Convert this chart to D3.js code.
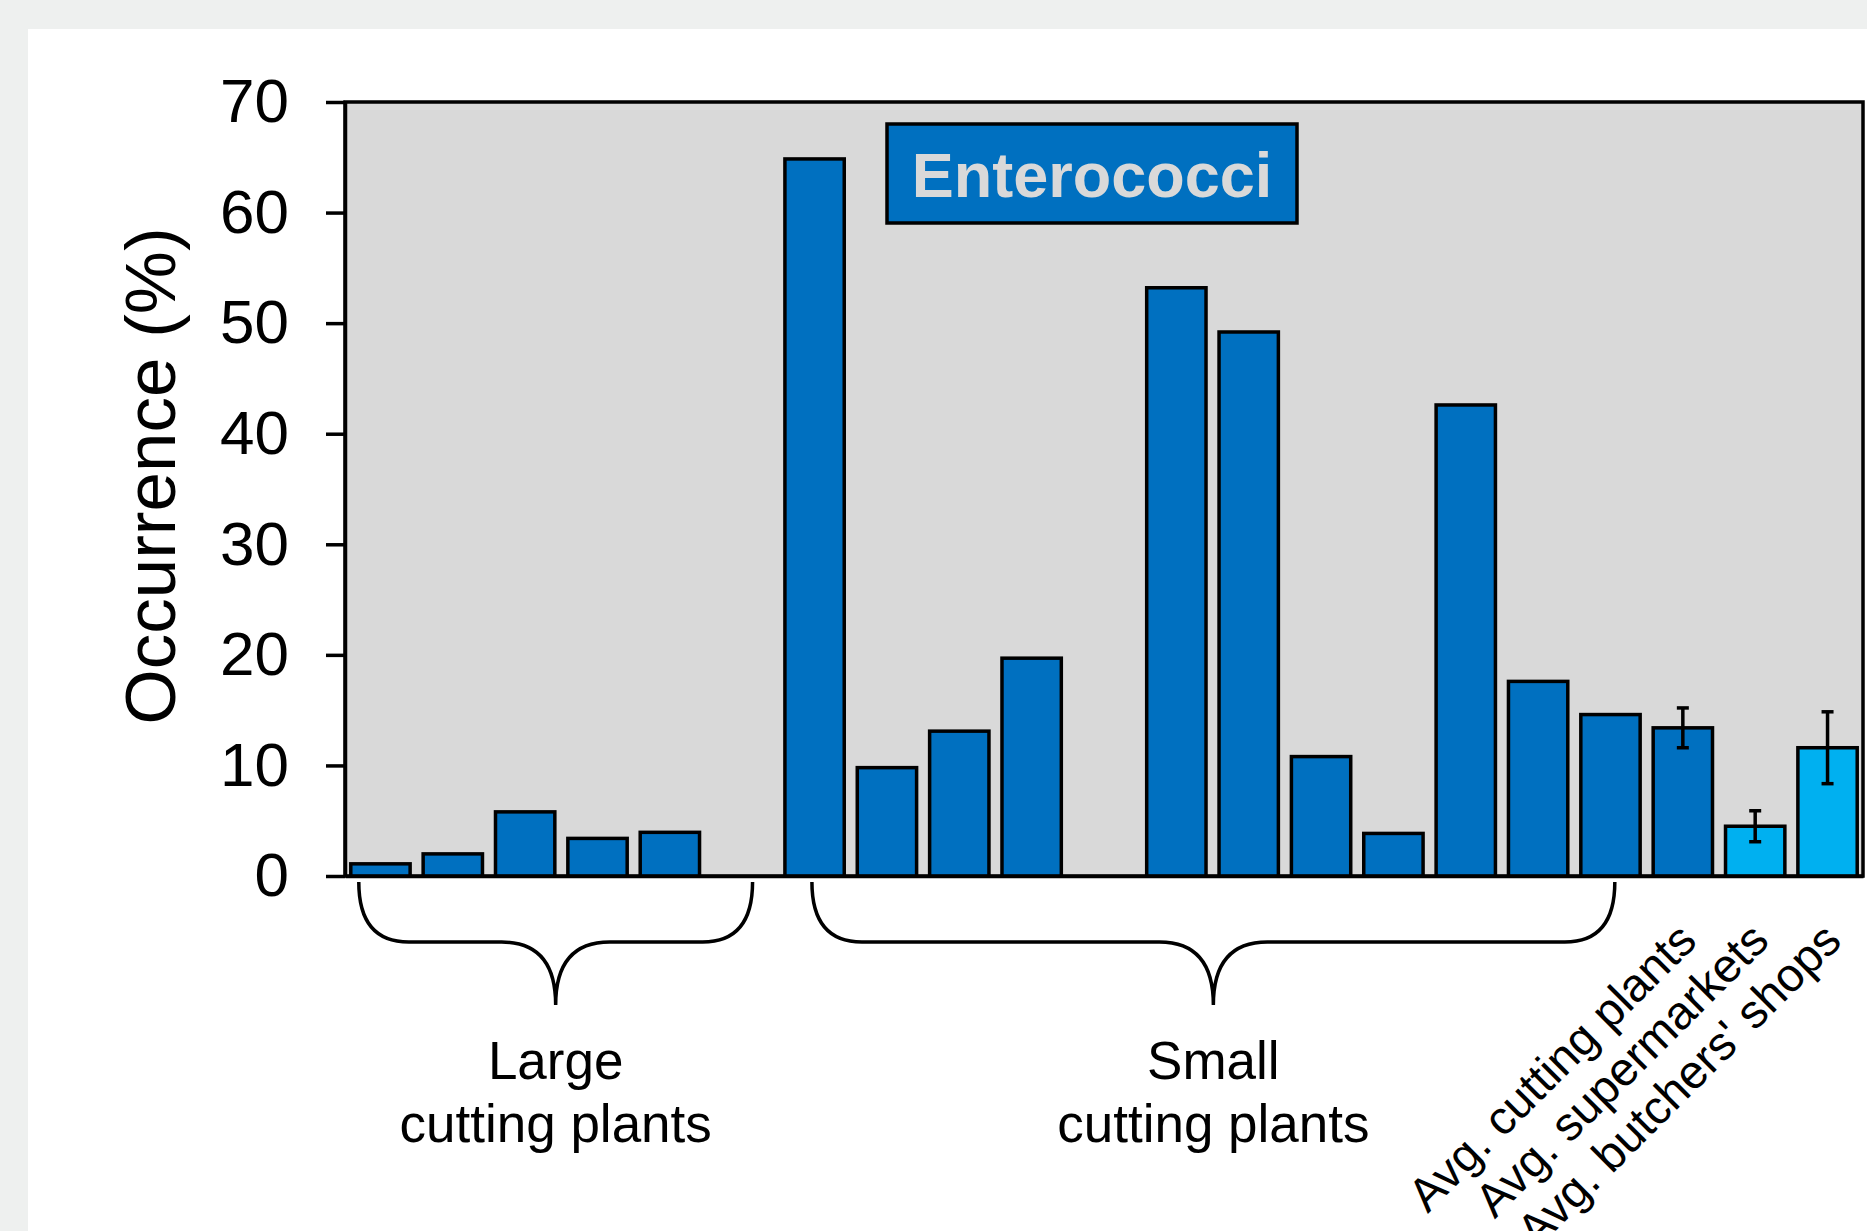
<!DOCTYPE html>
<html lang="en">
<head>
  <meta charset="UTF-8">
  <title>Enterococci occurrence</title>
  <script src="https://d3js.org/d3.v7.min.js"></script>
  <style>
    html, body { margin: 0; padding: 0; background: #eef0ef; }
    svg { display: block; }
    text { font-family: "Liberation Sans", Arial, sans-serif; }
  </style>
</head>
<body>
  <div id="chart"></div>

  <script>
    // categories in plotting order, two empty slots separate the groups
    const categories = [
      "Large 1", "Large 2", "Large 3", "Large 4", "Large 5",
      "gap A",
      "Small 1", "Small 2", "Small 3", "Small 4",
      "gap B",
      "Small 5", "Small 6", "Small 7", "Small 8", "Small 9", "Small 10", "Small 11",
      "Avg. cutting plants", "Avg. supermarkets", "Avg. butchers' shops"
    ];
    const occurrence = [
      1.1, 2.0, 5.8, 3.4, 3.95,
      null,
      64.85, 9.8, 13.1, 19.7,
      null,
      53.2, 49.2, 10.8, 3.85, 42.6, 17.6, 14.6,
      13.4, 4.5, 11.6
    ];
    const errorBars = [
      null, null, null, null, null, null, null, null, null, null, null,
      null, null, null, null, null, null, null,
      1.8, 1.4, 3.25
    ];
    const sampleType = [
      "plant", "plant", "plant", "plant", "plant", null,
      "plant", "plant", "plant", "plant", null,
      "plant", "plant", "plant", "plant", "plant", "plant", "plant",
      "plant", "retail", "retail"
    ];
    const yTicks = [0, 10, 20, 30, 40, 50, 60, 70];
    const avgLabels = ["Avg. cutting plants", "Avg. supermarkets", "Avg. butchers' shops"];
    const groupNames = [["Large", "cutting plants"], ["Small", "cutting plants"]];
    const groupFirst = ["Large 1", "Small 1"];
    const groupLast = ["gap A", "Small 11"];
    const chartTitle = "Enterococci";
    const yLabel = "Occurrence (%)";

    const width = 1867;
    const height = 1231;
    const plot = { left: 345, right: 1863, top: 102, bottom: 876 };
    const lw = 3.5;

    const svg = d3.select("#chart")
      .append("svg")
      .attr("width", width)
      .attr("height", height);

    // white panel
    svg.append("rect")
      .attr("x", 28).attr("y", 29)
      .attr("width", width - 28).attr("height", height - 29)
      .attr("fill", "#ffffff");

    const x = d3.scaleBand()
      .domain(categories)
      .range([plot.left, plot.right])
      .paddingInner(0.18)
      .paddingOuter(0.08);

    const y = d3.scaleLinear()
      .domain([0, 70])
      .range([plot.bottom, plot.top]);

    const color = d3.scaleOrdinal()
      .domain(["plant", "retail"])
      .range(["#0070c0", "#00b0f0"]);

    // plot area
    svg.append("rect")
      .attr("x", plot.left).attr("y", plot.top)
      .attr("width", plot.right - plot.left)
      .attr("height", plot.bottom - plot.top)
      .attr("fill", "#d9d9d9")
      .attr("stroke", "#000")
      .attr("stroke-width", lw);

    const rows = categories.map((c, i) => ({
      cat: c, value: occurrence[i], err: errorBars[i], type: sampleType[i]
    })).filter(d => d.value !== null);

    svg.selectAll(".bar")
      .data(rows)
      .enter().append("rect")
      .attr("class", "bar")
      .attr("x", d => x(d.cat))
      .attr("y", d => y(d.value))
      .attr("width", x.bandwidth())
      .attr("height", d => y(0) - y(d.value))
      .attr("fill", d => color(d.type))
      .attr("stroke", "#000")
      .attr("stroke-width", lw);

    // error bars
    const errG = svg.selectAll(".err")
      .data(rows.filter(d => d.err !== null))
      .enter().append("g")
      .attr("class", "err")
      .attr("stroke", "#000")
      .attr("stroke-width", lw);
    const cx = d => x(d.cat) + x.bandwidth() / 2;
    errG.append("line")
      .attr("x1", cx).attr("x2", cx)
      .attr("y1", d => y(d.value - d.err))
      .attr("y2", d => y(d.value + d.err));
    errG.append("line")
      .attr("x1", d => cx(d) - 6).attr("x2", d => cx(d) + 6)
      .attr("y1", d => y(d.value + d.err)).attr("y2", d => y(d.value + d.err));
    errG.append("line")
      .attr("x1", d => cx(d) - 6).attr("x2", d => cx(d) + 6)
      .attr("y1", d => y(d.value - d.err)).attr("y2", d => y(d.value - d.err));

    // y axis
    const yAxis = svg.append("g")
      .attr("transform", `translate(${plot.left},0)`)
      .call(d3.axisLeft(y).tickValues(yTicks).tickSize(19).tickSizeOuter(0).tickPadding(37));
    yAxis.select(".domain").attr("stroke", "#000").attr("stroke-width", lw);
    yAxis.selectAll(".tick line").attr("stroke", "#000").attr("stroke-width", lw);
    yAxis.selectAll(".tick text")
      .attr("fill", "#000")
      .style("font-size", "62px")
      .style("font-family", "'Liberation Sans', Arial, sans-serif");

    // x axis with the three average labels
    const xAxis = svg.append("g")
      .attr("transform", `translate(0,${plot.bottom})`)
      .call(d3.axisBottom(x).tickValues(avgLabels).tickSize(0).tickSizeOuter(0));
    xAxis.select(".domain").attr("stroke", "#000").attr("stroke-width", lw);
    xAxis.selectAll(".tick text")
      .attr("fill", "#000")
      .attr("x", 16)
      .attr("y", 67)
      .attr("dy", 0)
      .attr("text-anchor", "end")
      .attr("transform", "rotate(-45, 16, 67)")
      .style("font-size", "47px")
      .style("font-family", "'Liberation Sans', Arial, sans-serif");

    // curly braces under the two plant groups
    const braceTop = plot.bottom + 6, braceMid = plot.bottom + 66, braceTip = plot.bottom + 129;
    const braceEnds = [
      [x(groupFirst[0]) + 8, x(groupLast[0]) + 40],
      [x(groupFirst[1]) + 27, x(groupLast[1]) + 34]
    ];
    function bracePath(x0, x1) {
      const c = (x0 + x1) / 2, r = 50, rc = 54;
      return `M${x0},${braceTop} Q${x0},${braceMid} ${x0 + r},${braceMid}` +
        ` L${c - rc},${braceMid} Q${c},${braceMid} ${c},${braceTip}` +
        ` Q${c},${braceMid} ${c + rc},${braceMid}` +
        ` L${x1 - r},${braceMid} Q${x1},${braceMid} ${x1},${braceTop}`;
    }
    svg.selectAll(".brace")
      .data(braceEnds)
      .enter().append("path")
      .attr("class", "brace")
      .attr("d", d => bracePath(d[0], d[1]))
      .attr("fill", "none")
      .attr("stroke", "#000")
      .attr("stroke-width", lw);

    const groupText = svg.selectAll(".group")
      .data(groupNames)
      .enter().append("text")
      .attr("class", "group")
      .attr("text-anchor", "middle")
      .style("font-size", "53px")
      .attr("fill", "#000");
    groupText.each(function(d, i) {
      const c = (braceEnds[i][0] + braceEnds[i][1]) / 2;
      d3.select(this).selectAll("tspan")
        .data(d)
        .enter().append("tspan")
        .attr("x", c)
        .attr("y", (t, j) => 1079 + j * 63)
        .text(t => t);
    });

    // y label
    svg.append("text")
      .attr("transform", "translate(175,476) rotate(-90)")
      .attr("text-anchor", "middle")
      .style("font-size", "71px")
      .attr("fill", "#000")
      .text(yLabel);

    // title box
    svg.append("rect")
      .attr("x", 887).attr("y", 124)
      .attr("width", 410).attr("height", 99)
      .attr("fill", "#0070c0")
      .attr("stroke", "#000")
      .attr("stroke-width", lw);
    svg.append("text")
      .attr("x", 1092).attr("y", 197)
      .attr("text-anchor", "middle")
      .style("font-size", "63px")
      .style("font-weight", "bold")
      .attr("fill", "#d9d9d9")
      .text(chartTitle);
  </script>
</body>
</html>
